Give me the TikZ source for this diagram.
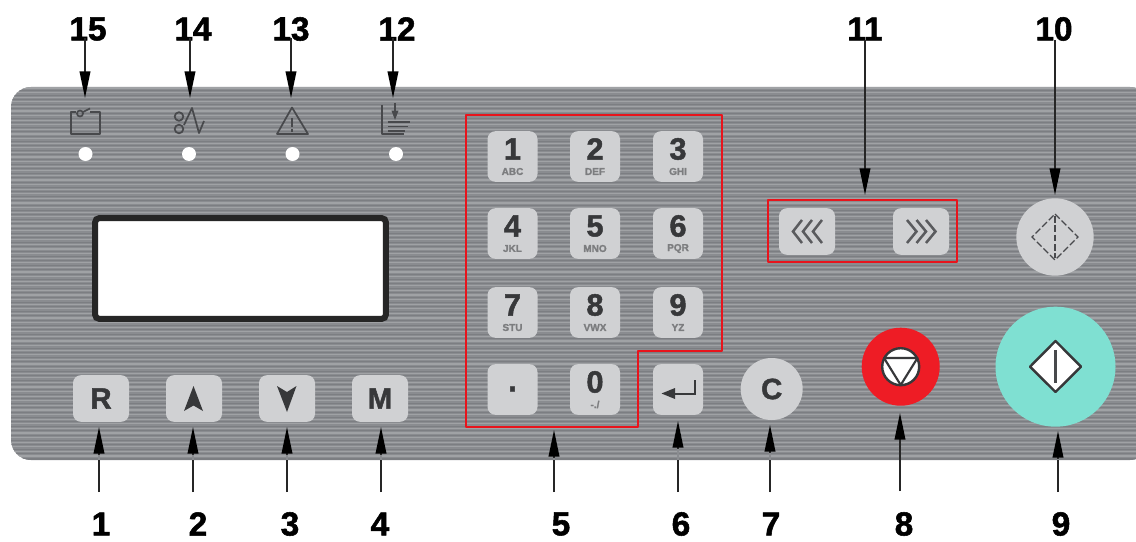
\documentclass[tikz,border=0pt]{standalone}
\usepackage{fontspec}
\setmainfont{Liberation Sans}[BoldFeatures={FakeBold=1.6}]
\usetikzlibrary{arrows.meta,calc}
\definecolor{panelbase}{HTML}{8A8C90}
\definecolor{stripelight}{HTML}{A0A2A5}
\definecolor{stripedark}{HTML}{7C7E82}
\definecolor{keyfill}{HTML}{D0D1D3}
\definecolor{keyink}{HTML}{37383A}
\definecolor{iconink}{HTML}{48494C}
\definecolor{outlinered}{HTML}{E8141C}
\definecolor{stopred}{HTML}{EE1C25}
\definecolor{startteal}{HTML}{7FE0D2}
\tikzset{
  keybox/.style={fill=keyfill,rounded corners=6pt,minimum width=37.5pt,minimum height=38pt,inner sep=0pt},
  widekey/.style={keybox,minimum width=42pt,minimum height=35pt},
  digit/.style={font=\fontsize{23}{23}\selectfont\bfseries,text=keyink,inner sep=0pt},
  letters/.style={font=\fontsize{7.5}{8}\selectfont\bfseries,text=keyink!55!keyfill,inner sep=0pt},
  keyletter/.style={font=\fontsize{22}{22}\selectfont\bfseries,text=keyink,inner sep=0pt},
  callout/.style={font=\fontsize{25}{25}\selectfont\bfseries,text=black,inner sep=0pt},
  arr/.style={draw=black!85,line width=1.2pt,-{Triangle[length=20pt,width=8pt,color=black]}},
  redline/.style={draw=outlinered,line width=1.5pt,line join=round},
  icon/.style={draw=iconink,line width=1.3pt,line join=round},
  led/.style={circle,fill=white,minimum size=10.5pt,inner sep=0pt},
  chev/.style={draw=iconink!90,line width=1.9pt}
}
\newcommand{\numkey}[5]{%
  \node[keybox] (k#1) at (#2,#3) {};
  \node[digit] (kd#1) at ($(k#1.center)+(0,-7.5)$) {#4};
  \node[letters] (kl#1) at ($(k#1.center)+(0,15)$) {#5};
}
\begin{document}
\begin{tikzpicture}[x=0.75pt,y=-0.75pt]
\useasboundingbox (0,0) rectangle (1136,542);
\fill[white] (0,0) rectangle (1136,542);
% panel
\begin{scope}
\clip[rounded corners=15pt] (11,87) rectangle (1150,460);
\fill[panelbase] (0,80) rectangle (1150,470);
\foreach \y in {88,92.6,...,460}{
  \draw[stripelight,line width=0.85pt] (0,\y) -- (1150,\y);
  \draw[stripedark,line width=0.7pt] (0,\y+2.4) -- (1150,\y+2.4);
}
\draw[stripedark,line width=1.4pt] (0,459) -- (1150,459);
\end{scope}
% leds
\node[led] (led15) at (85.5,154) {};
\node[led] (led14) at (189,154) {};
\node[led] (led13) at (292.5,154) {};
\node[led] (led12) at (396,154) {};
% icons
\draw[icon] (76,112) -- (70.7,112) -- (70.7,134) -- (100,134) -- (100,112) -- (90,112);
\draw[icon] (80,113.5) circle (3);
\draw[icon] (83,112) -- (90,108.5);
\draw[icon] (179,116.5) circle (4.3);
\draw[icon] (179,129) circle (4.3);
\draw[icon] (184,125) -- (192,108) -- (199,133) -- (204,121);
\draw[icon] (277,134) -- (292,107.5) -- (308,134) -- cycle;
\draw[icon,line width=1.6pt] (292,118) -- (292,127);
\draw[icon,line width=1.6pt] (292,129.5) -- (292,132);
\draw[icon] (382,105) -- (382,134) -- (404,134);
\draw[icon,line width=0.9pt,-{Triangle[length=7pt,width=5pt]}] (395,103) -- (395,120);
\draw[icon,line width=0.9pt] (388,122) -- (410,122);
\draw[icon] (388,126.5) -- (408,126.5);
\draw[icon] (388,131) -- (405,131);
% display
\node[draw=black!85,line width=4.5pt,fill=white,rounded corners=3pt,minimum width=218pt,minimum height=75.5pt,inner sep=0pt] (display) at (240.5,268.5) {};
% function keys
\node[widekey] (kR) at (101,398.5) {};
\node[keyletter] at (kR.center) {R};
\node[widekey] (kU) at (194,398.5) {};
\fill[keyink] (193.5,386) -- (203,411) -- (193.5,405.5) -- (184,411) -- cycle;
\node[widekey] (kD) at (287,398.5) {};
\fill[keyink] (287,412) -- (277,386) -- (287,392) -- (296.5,386) -- cycle;
\node[widekey] (kM) at (380,398.5) {};
\node[keyletter] at (kM.center) {M};
% keypad
\numkey{1}{512.5}{156.5}{1}{ABC}
\numkey{2}{595}{156.5}{2}{DEF}
\numkey{3}{678}{156.5}{3}{GHI}
\numkey{4}{512.5}{233.5}{4}{JKL}
\numkey{5}{595}{233.5}{5}{MNO}
\numkey{6}{678}{233.5}{6}{PQR}
\numkey{7}{512.5}{312.5}{7}{STU}
\numkey{8}{595}{312.5}{8}{VWX}
\numkey{9}{678}{312.5}{9}{YZ}
\node[keybox] (kdot) at (512.5,389.5) {};
\node[digit] at (512.5,389) {.};
\numkey{0}{595}{389.5}{0}{-./}
\node[keybox] (kenter) at (678,389.5) {};
\draw[keyink,line width=1.5pt] (695,380) -- (695,394) -- (672,394);
\fill[keyink] (661.5,393.5) -- (675,388) -- (675,399) -- cycle;
\node[circle,fill=keyfill,minimum size=46.5pt,inner sep=0pt] (kC) at (771.7,389) {};
\node[keyletter] at (kC.center) {C};
% keypad outline
\draw[redline] (465.5,115.5) -- (722,115.5) -- (722,350.5) -- (638,350.5) -- (638,427) -- (465.5,427) -- cycle;
% arrows keys
\node[keybox,minimum width=42pt,minimum height=35pt] (kL) at (807,231.5) {};
\node[keybox,minimum width=42pt,minimum height=35pt] (kRt) at (921,231.5) {};
\foreach \t in {793,803,813}{\draw[chev] (\t+9,220) -- (\t,231.5) -- (\t+9,243);}
\foreach \t in {907,916.5,926}{\draw[chev] (\t,220) -- (\t+9.5,231.5) -- (\t,243);}
\draw[redline] (768,200) rectangle (957,262);
% round buttons
\node[circle,fill=keyfill,minimum size=58pt,inner sep=0pt] (kfeed) at (1055,237) {};
\draw[iconink,line width=1pt,dash pattern=on 5pt off 2pt] (1055,214) -- (1078,237) -- (1055,260) -- (1032,237) -- cycle;
\draw[iconink,line width=1pt,dash pattern=on 5pt off 2pt] (1055,216) -- (1055,258);
\node[circle,fill=stopred,minimum size=58.5pt,inner sep=0pt] (kstop) at (900.7,366.7) {};
\draw[fill=white,draw=keyink,line width=1.8pt] (900.7,366.7) circle (18.5);
\draw[keyink,line width=1.6pt,line join=round] (884,358) -- (917.5,358) -- (900.7,385) -- cycle;
\node[circle,fill=startteal,minimum size=90pt,inner sep=0pt] (kstart) at (1055.5,366.7) {};
\draw[fill=white,draw=keyink,line width=1.8pt,line join=round] (1055.5,341) -- (1081,366.7) -- (1055.5,392) -- (1030,366.7) -- cycle;
\draw[iconink,line width=1.7pt] (1055.5,350) -- (1055.5,383);
% callout labels
\node[callout] (n15) at (88,29) {15};
\node[callout] (n14) at (193,29) {14};
\node[callout] (n13) at (291,29) {13};
\node[callout] (n12) at (397,29) {12};
\node[callout] (n11) at (865,29) {11};
\node[callout] (n10) at (1054,29) {10};
\node[callout] (n1) at (101,524) {1};
\node[callout] (n2) at (198,524) {2};
\node[callout] (n3) at (290,524) {3};
\node[callout] (n4) at (380,524) {4};
\node[callout] (n5) at (561,524) {5};
\node[callout] (n6) at (681,524) {6};
\node[callout] (n7) at (771,524) {7};
\node[callout] (n8) at (904,524) {8};
\node[callout] (n9) at (1061,524) {9};
% callout arrows
\foreach \n/\x/\ya/\yb in {15/85/38/98,14/190/38/98,13/291/38/98,12/393/38/98,11/865/40/195,10/1055/40/195}{
  \coordinate (s\n) at (\x,\ya);
  \coordinate (e\n) at (\x,\yb);
  \draw[arr] (s\n) -- (e\n);
}
\foreach \n/\x/\ya/\yb in {1/99/492/427,2/193/492/427,3/287/492/427,4/381/492/427,5/554/492/430,6/678/492/421,7/770/492/425,8/900/491/413,9/1058/492/431}{
  \coordinate (s\n) at (\x,\ya);
  \coordinate (e\n) at (\x,\yb);
  \draw[arr] (s\n) -- (e\n);
}
% breaks in the shafts at the panel's lower edge
\foreach \x/\yb in {99/427,193/427,287/427,381/427,554/430,678/421,770/425,1058/431}{
  \draw[panelbase,line width=1.6pt] (\x,\yb+27.5) -- (\x,459.5);
}
\end{tikzpicture}
\end{document}
